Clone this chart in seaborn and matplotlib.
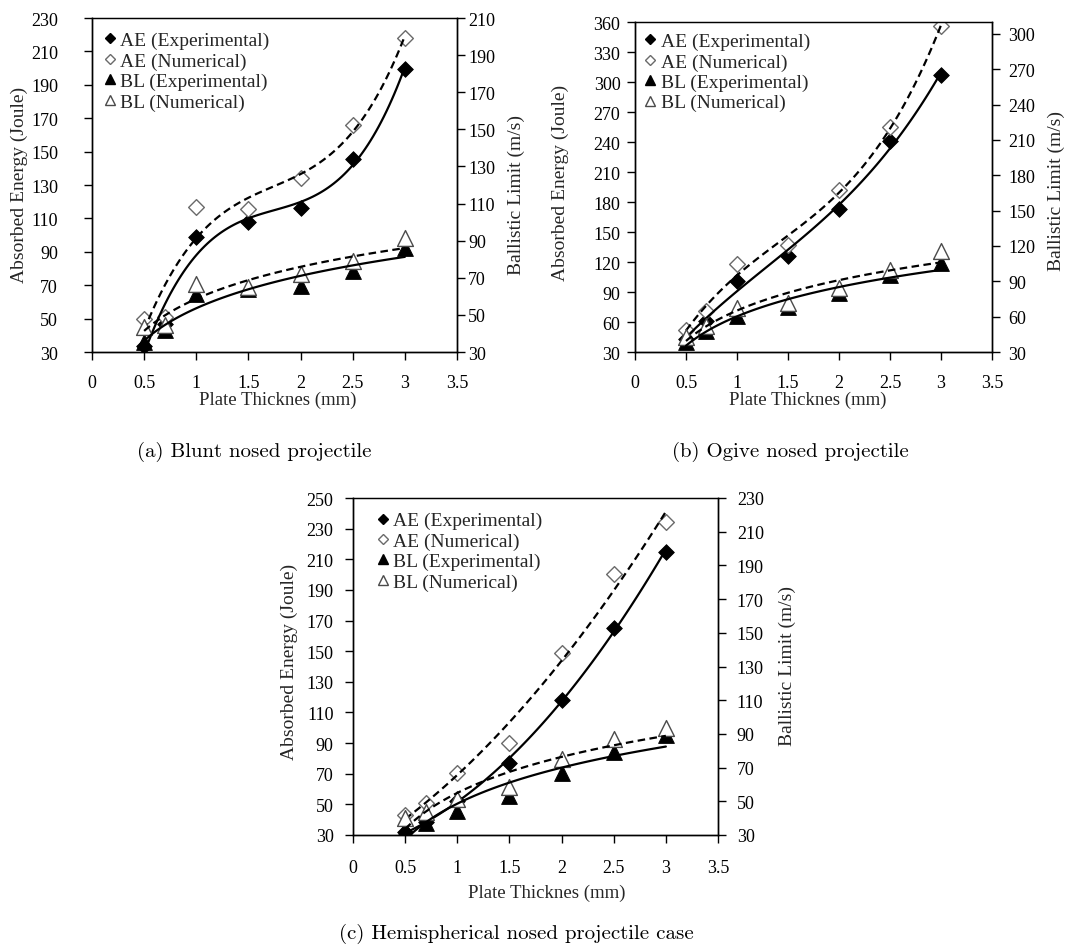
import numpy as np
import pandas as pd
import matplotlib
matplotlib.use("Agg")
import matplotlib.pyplot as plt
import seaborn as sns
from matplotlib.lines import Line2D

# ---------------- data ----------------
thickness = [0.5, 0.7, 1.0, 1.5, 2.0, 2.5, 3.0]

# (a) Blunt nosed projectile
blunt_ae_exp = [33.6, 47.0, 98.6, 107.6, 116.5, 145.4, 199.6]
blunt_ae_num = [50.0, 51.0, 116.8, 115.6, 134.0, 166.0, 218.0]
blunt_bl_exp = [35.4, 41.7, 61.1, 63.8, 65.6, 73.7, 85.8]
blunt_bl_num = [43.5, 44.4, 66.5, 65.1, 71.9, 78.8, 91.7]

# (b) Ogive nosed projectile
ogive_ae_exp = [43.0, 61.5, 100.6, 126.2, 172.6, 241.0, 307.0]
ogive_ae_num = [52.0, 70.8, 117.9, 137.1, 191.9, 254.9, 356.0]
ogive_bl_exp = [38.5, 47.7, 60.4, 68.2, 80.1, 95.3, 105.5]
ogive_bl_num = [42.7, 52.0, 67.4, 71.6, 84.3, 99.6, 115.3]

# (c) Hemispherical nosed projectile
hemi_ae_exp = [32.0, 38.2, 52.0, 77.3, 118.4, 165.0, 214.9]
hemi_ae_num = [43.0, 51.2, 70.8, 90.3, 148.8, 200.4, 234.4]
hemi_bl_exp = [33.6, 37.1, 44.4, 53.3, 67.0, 79.3, 89.1]
hemi_bl_num = [39.8, 43.4, 51.3, 58.2, 74.9, 87.2, 93.6]

x_ticks = [0, 0.5, 1, 1.5, 2, 2.5, 3, 3.5]
x_tick_labels = ["0", "0.5", "1", "1.5", "2", "2.5", "3", "3.5"]

ae_ticks_a = list(range(30, 231, 20))
bl_ticks_a = list(range(30, 211, 20))
ae_ticks_b = list(range(30, 361, 30))
bl_ticks_b = list(range(30, 301, 30))
ae_ticks_c = list(range(30, 251, 20))
bl_ticks_c = list(range(30, 231, 20))

legend_labels = ["AE (Experimental)", "AE (Numerical)",
                 "BL (Experimental)", "BL (Numerical)"]
x_label = "Plate Thicknes (mm)"
ae_label = "Absorbed Energy (Joule)"
bl_label = "Ballistic Limit (m/s)"
captions = ["(a) Blunt nosed projectile",
            "(b) Ogive nosed projectile",
            "(c) Hemispherical nosed projectile case"]

# ---------------- style ----------------
sns.set_style("ticks")
plt.rcParams["font.family"] = ["Liberation Serif", "DejaVu Serif"]
plt.rcParams["font.size"] = 13

W, H = 1072, 953
fig = plt.figure(figsize=(W / 100, H / 100), dpi=100)

OPEN_EDGE = "#6a6a6a"
TRI_EDGE = "#4a4a4a"
DASH = (0, (3.4, 2.0))
TICK_FS = 13
LAB_FS = 14
XLAB_FS = 13.5
LEG_FS = 14


def px_rect(left, right, top, bottom):
    return [left / W, (H - bottom) / H, (right - left) / W, (bottom - top) / H]


def panel(rect, ae_exp, ae_num, bl_exp, bl_num, ae_lim, ae_ticks, bl_lim,
          bl_ticks, ae_order, lpad, rpad, xpad, ylab_l, ylab_r, xlab_pos,
          leg_anchor):
    ax = fig.add_axes(rect)
    ax2 = ax.twinx()
    df = pd.DataFrame({"t": thickness, "ae_exp": ae_exp, "ae_num": ae_num,
                       "bl_exp": bl_exp, "bl_num": bl_num})

    # absorbed energy (left axis)
    sns.scatterplot(data=df, x="t", y="ae_exp", marker="D", s=64,
                    color="black", edgecolor="black", linewidth=0.6,
                    ax=ax, zorder=3, legend=False)
    sns.scatterplot(data=df, x="t", y="ae_num", marker="D", s=64,
                    facecolor="white", edgecolor=OPEN_EDGE, linewidth=1.0,
                    ax=ax, zorder=3, legend=False)
    sns.regplot(data=df, x="t", y="ae_exp", order=ae_order, ci=None,
                scatter=False, ax=ax,
                line_kws=dict(color="black", lw=1.6, zorder=4))
    sns.regplot(data=df, x="t", y="ae_num", order=ae_order, ci=None,
                scatter=False, ax=ax,
                line_kws=dict(color="black", lw=1.6, ls=DASH, zorder=4))

    # ballistic limit (right axis)
    sns.scatterplot(data=df, x="t", y="bl_exp", marker="^", s=130,
                    color="black", edgecolor="black", linewidth=0.6,
                    ax=ax2, zorder=3, legend=False)
    sns.scatterplot(data=df, x="t", y="bl_num", marker="^", s=130,
                    facecolor="white", edgecolor=TRI_EDGE, linewidth=1.0,
                    ax=ax2, zorder=3, legend=False)
    sns.regplot(data=df, x="t", y="bl_exp", logx=True, ci=None,
                scatter=False, ax=ax2,
                line_kws=dict(color="black", lw=1.6, zorder=4))
    sns.regplot(data=df, x="t", y="bl_num", logx=True, ci=None,
                scatter=False, ax=ax2,
                line_kws=dict(color="black", lw=1.6, ls=DASH, zorder=4))

    ax.set_xlim(0, 3.5)
    ax.set_xticks(x_ticks)
    ax.set_xticklabels(x_tick_labels)
    ax.set_ylim(*ae_lim)
    ax.set_yticks(ae_ticks)
    ax2.set_ylim(*bl_lim)
    ax2.set_yticks(bl_ticks)

    for a in (ax, ax2):
        for s in a.spines.values():
            s.set_visible(True)
            s.set_color("black")
            s.set_linewidth(1.0)
    ax.spines["top"].set_color("#555555")
    ax.spines["top"].set_linewidth(0.8)

    ax.tick_params(axis="x", direction="out", length=5.5, width=1.0,
                   pad=xpad, labelsize=TICK_FS, colors="black")
    ax.tick_params(axis="y", direction="out", length=5.5, width=1.0,
                   pad=lpad, labelsize=TICK_FS, colors="black")
    ax2.tick_params(axis="y", direction="out", length=5.5, width=1.0,
                    pad=rpad, labelsize=TICK_FS, colors="black")

    ax.set_xlabel(x_label, fontsize=XLAB_FS)
    ax.set_ylabel(ae_label, fontsize=LAB_FS)
    ax2.set_ylabel(bl_label, fontsize=LAB_FS)
    ax.xaxis.set_label_coords(*xlab_pos)
    ax.yaxis.set_label_coords(*ylab_l)
    ax2.yaxis.set_label_coords(*ylab_r)

    handles = [
        Line2D([], [], ls="none", marker="D", ms=5.6, mfc="black", mec="black"),
        Line2D([], [], ls="none", marker="D", ms=5.6, mfc="white", mec=OPEN_EDGE),
        Line2D([], [], ls="none", marker="^", ms=7.8, mfc="black", mec="black"),
        Line2D([], [], ls="none", marker="^", ms=7.8, mfc="white", mec=TRI_EDGE),
    ]
    ax2.legend(handles, legend_labels, loc="upper left",
               bbox_to_anchor=leg_anchor, frameon=False, fontsize=LEG_FS,
               handlelength=0.6, handletextpad=0.24, labelspacing=0.14,
               borderpad=0, borderaxespad=0)
    return ax, ax2


# (a)
panel(px_rect(92, 457, 19, 353), blunt_ae_exp, blunt_ae_num, blunt_bl_exp,
      blunt_bl_num, (30, 230), ae_ticks_a, (30, 210), bl_ticks_a, 3,
      lpad=19, rpad=2.5, xpad=10, ylab_l=(-0.176, 0.503),
      ylab_r=(1.14, 0.473), xlab_pos=(0.51, -0.117),
      leg_anchor=(0.032, 0.959))
# (b)
panel(px_rect(635, 992, 23, 353), ogive_ae_exp, ogive_ae_num, ogive_bl_exp,
      ogive_bl_num, (30, 360), ae_ticks_b, (30, 310), bl_ticks_b, 3,
      lpad=5, rpad=6, xpad=10, ylab_l=(-0.185, 0.515),
      ylab_r=(1.157, 0.49), xlab_pos=(0.483, -0.118),
      leg_anchor=(0.027, 0.968))
# (c)
panel(px_rect(353, 718, 499, 836), hemi_ae_exp, hemi_ae_num, hemi_bl_exp,
      hemi_bl_num, (30, 250), ae_ticks_c, (30, 230), bl_ticks_c, 2,
      lpad=8.5, rpad=8, xpad=11.5, ylab_l=(-0.152, 0.517),
      ylab_r=(1.167, 0.505), xlab_pos=(0.53, -0.145),
      leg_anchor=(0.065, 0.959))

cap_font = dict(family=["cmr10", "DejaVu Serif"], fontsize=15, ha="center",
                va="center", color="black")
fig.text(254 / W, 1 - 452 / H, captions[0], **cap_font)
fig.text(790 / W, 1 - 452 / H, captions[1], **cap_font)
fig.text(516 / W, 1 - 934 / H, captions[2], **cap_font)

fig.savefig("out.png", dpi=100, facecolor="white")
